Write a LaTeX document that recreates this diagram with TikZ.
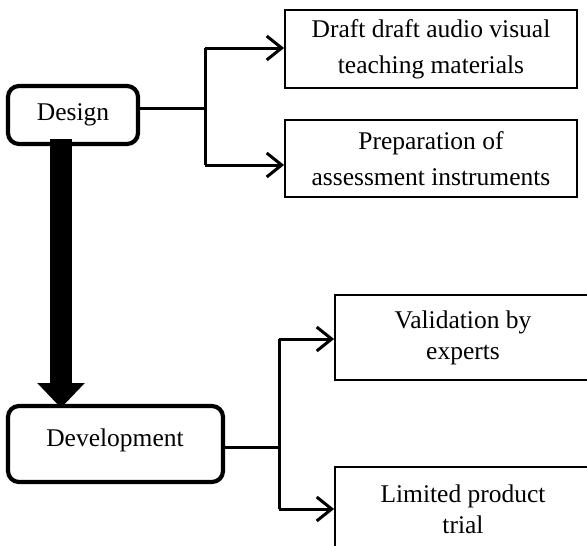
\documentclass[tikz,border=0pt]{standalone}
\usepackage{fontspec}
\setmainfont{Liberation Serif}
\usetikzlibrary{arrows.meta}
\begin{document}
\begin{tikzpicture}[x=1pt,y=-1pt,
  phase/.style={draw, line width=4.2pt, rounded corners=11pt, align=center, inner sep=0pt},
  taskbox/.style={draw, line width=1.8pt, align=center, inner sep=0pt},
  link/.style={line width=3pt},
  linkarrow/.style={line width=3pt, -{Straight Barb[length=15pt,width=24pt,line width=3pt]}},
  txt/.style={font=\fontsize{25.5}{36}\selectfont}
]
\useasboundingbox (0,0) rectangle (587,546);
\clip (0,0) rectangle (587,546);
\fill[white] (0,0) rectangle (587,546);

% phases
\node[phase, minimum width=130pt, minimum height=58pt, txt] (design) at (73,115) {Design};
\node[phase, minimum width=215pt, minimum height=76pt] (dev) at (115.5,444) {};
\node[txt] (devtxt) at (115,440) {Development};

% task boxes
\node[taskbox, minimum width=292pt, minimum height=78pt, txt] (draft) at (431,49) {Draft draft audio visual\\teaching materials};
\node[taskbox, minimum width=292pt, minimum height=77pt, txt] (prep) at (431,158.5) {Preparation of\\assessment instruments};
\node[taskbox, minimum width=256pt, minimum height=85pt, font=\fontsize{25.5}{31}\selectfont] (valid) at (463,337.5) {Validation by\\experts};
\node[taskbox, minimum width=256pt, minimum height=85pt, font=\fontsize{25.5}{31}\selectfont] (trial) at (463,509.5) {Limited product\\trial};

% design branches
\coordinate (b1) at (205,108);
\coordinate (b1t) at (205,48);
\coordinate (b1b) at (205,165);
\draw[link] (design.east |- b1) -- (b1);
\draw[link] (b1t) -- (b1b);
\draw[linkarrow] (b1t) -- (draft.west |- b1t);
\draw[linkarrow] (b1b) -- (prep.west |- b1b);

% development branches
\coordinate (b2) at (279,447);
\coordinate (b2t) at (279,339);
\coordinate (b2b) at (279,509);
\draw[link] (dev.east |- b2) -- (b2);
\draw[link] (b2t) -- (b2b);
\draw[linkarrow] (b2t) -- (valid.west |- b2t);
\draw[linkarrow] (b2b) -- (trial.west |- b2b);

% big arrow
\coordinate (ba) at (61,139);
\coordinate (bb) at (61,408);
\draw[line width=22pt, -{Triangle[length=25pt,width=46pt]}] (ba) -- (bb);
\end{tikzpicture}
\end{document}
